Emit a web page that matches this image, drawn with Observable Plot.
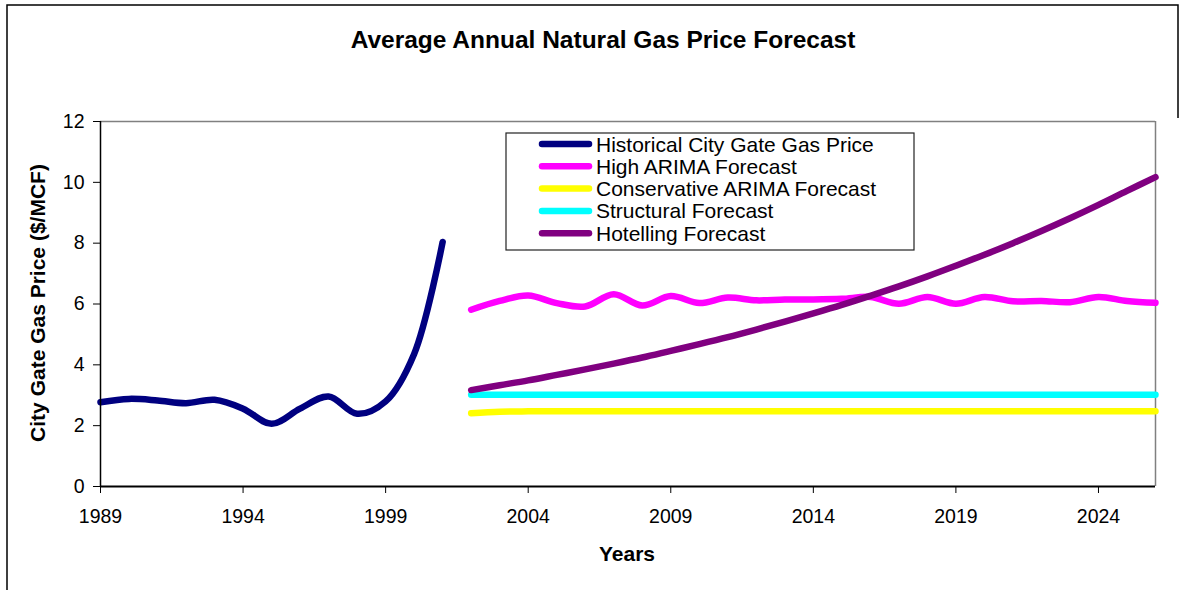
<!DOCTYPE html>
<html>
<head>
<meta charset="utf-8">
<script src="https://cdn.jsdelivr.net/npm/d3@7"></script>
<script src="https://cdn.jsdelivr.net/npm/@observablehq/plot@0.6"></script>
<style>
  html, body { margin: 0; padding: 0; background: #fff; }
  #chart { width: 1183px; height: 590px; }
  svg { font-family: "Liberation Sans", Arial, sans-serif; }
</style>
</head>
<body>
<div id="chart"></div>
<script>
// ---- Data ----
const histYears = [1989, 1990, 1991, 1992, 1993, 1994, 1995, 1996, 1997, 1998, 1999, 2000, 2001];
const historical = [2.77, 2.88, 2.83, 2.74, 2.85, 2.56, 2.06, 2.56, 2.96, 2.39, 2.80, 4.36, 8.04];

const fcYears = [2002, 2003, 2004, 2005, 2006, 2007, 2008, 2009, 2010, 2011, 2012, 2013, 2014,
                 2015, 2016, 2017, 2018, 2019, 2020, 2021, 2022, 2023, 2024, 2025, 2026];
const highArima = [5.81, 6.10, 6.28, 6.03, 5.92, 6.32, 5.95, 6.26, 6.03, 6.21, 6.12, 6.15, 6.15,
                   6.17, 6.23, 6.01, 6.23, 6.01, 6.23, 6.09, 6.10, 6.06, 6.23, 6.10, 6.04];
const conservativeArima = [2.41, 2.46, 2.47, 2.47, 2.47, 2.47, 2.47, 2.47, 2.47, 2.47, 2.47, 2.47, 2.47,
                           2.47, 2.47, 2.47, 2.47, 2.47, 2.47, 2.47, 2.47, 2.47, 2.47, 2.47, 2.47];
const structural = [3.02, 3.02, 3.02, 3.02, 3.02, 3.02, 3.02, 3.02, 3.02, 3.02, 3.02, 3.02, 3.02,
                    3.02, 3.02, 3.02, 3.02, 3.02, 3.02, 3.02, 3.02, 3.02, 3.02, 3.02, 3.02];
const hotelling = [3.17, 3.33, 3.49, 3.67, 3.85, 4.04, 4.24, 4.46, 4.68, 4.91, 5.16, 5.42, 5.69,
                   5.97, 6.27, 6.58, 6.91, 7.26, 7.62, 8.00, 8.40, 8.82, 9.26, 9.72, 10.17];

const seriesNames = ["Historical City Gate Gas Price", "High ARIMA Forecast", "Conservative ARIMA Forecast",
                     "Structural Forecast", "Hotelling Forecast"];
const seriesColors = ["#000080", "#FF00FF", "#FFFF00", "#00FFFF", "#800080"];
const xTicks = [1989, 1994, 1999, 2004, 2009, 2014, 2019, 2024];
const yTicks = [0, 2, 4, 6, 8, 10, 12];

const titleText = "Average Annual Natural Gas Price Forecast";
const xLabel = "Years";
const yLabel = "City Gate Gas Price ($/MCF)";

// ---- Build rows ----
const seriesValues = [historical, highArima, conservativeArima, structural, hotelling];
const seriesYears = [histYears, fcYears, fcYears, fcYears, fcYears];
const rows = seriesNames.map((name, i) =>
  seriesValues[i].map((v, j) => ({series: name, year: seriesYears[i][j], value: v})));

const FONT = "'Liberation Sans', Arial, sans-serif";

const plot = Plot.plot({
  width: 1183,
  height: 590,
  marginLeft: 100,
  marginRight: 28,
  marginTop: 121,
  marginBottom: 104,
  style: {fontFamily: FONT, background: "#fff", color: "#000", overflow: "visible"},
  x: {domain: [1989, 2026]},
  y: {domain: [0, 12]},
  marks: [
    Plot.ruleY([12], {stroke: "#808080", strokeWidth: 1.5}),
    Plot.ruleX([2026], {stroke: "#808080", strokeWidth: 1.5}),
    Plot.axisX({ticks: xTicks, tickFormat: d => String(d), tickSize: 7, tickPadding: 16,
                fontSize: 19.5, label: null, stroke: "#000"}),
    Plot.axisY({ticks: yTicks, tickSize: 7, tickPadding: 9, fontSize: 19.5, label: null, stroke: "#000"}),
    ...rows.map((data, i) => Plot.line(data, {
      x: "year", y: "value", stroke: seriesColors[i], strokeWidth: 6.5,
      curve: "catmull-rom", strokeLinecap: "round", strokeLinejoin: "round"
    })),
    Plot.ruleX([1989], {stroke: "#000", strokeWidth: 1.5}),
    Plot.ruleY([0], {stroke: "#000", strokeWidth: 2})
  ]
});

document.getElementById("chart").appendChild(plot);

// ---- Decorations: border, title, axis labels, legend ----
const svg = d3.select(plot);

svg.append("path")
  .attr("d", "M7,590 V5 H1178 V118")
  .attr("fill", "none").attr("stroke", "#000").attr("stroke-width", 1.5);

svg.append("text")
  .attr("x", 603).attr("y", 48)
  .attr("text-anchor", "middle")
  .attr("font-family", FONT).attr("font-weight", "bold").attr("font-size", 24.5)
  .attr("fill", "#000")
  .text(titleText);

svg.append("text")
  .attr("x", 627).attr("y", 561)
  .attr("text-anchor", "middle")
  .attr("font-family", FONT).attr("font-weight", "bold").attr("font-size", 21)
  .attr("fill", "#000")
  .text(xLabel);

svg.append("text")
  .attr("transform", "translate(45,303) rotate(-90)")
  .attr("text-anchor", "middle")
  .attr("font-family", FONT).attr("font-weight", "bold").attr("font-size", 21)
  .attr("fill", "#000")
  .text(yLabel);

const lg = svg.append("g");
lg.append("rect")
  .attr("x", 506).attr("y", 133).attr("width", 408).attr("height", 117)
  .attr("fill", "#fff").attr("stroke", "#222").attr("stroke-width", 1.2);
seriesNames.forEach((name, i) => {
  const cy = 144 + i * 22.3;
  lg.append("line")
    .attr("x1", 542).attr("x2", 589).attr("y1", cy).attr("y2", cy)
    .attr("stroke", seriesColors[i]).attr("stroke-width", 6.5).attr("stroke-linecap", "round");
  lg.append("text")
    .attr("x", 596).attr("y", cy + 7.5)
    .attr("text-anchor", "start")
    .attr("font-family", FONT).attr("font-size", 21).attr("fill", "#000")
    .text(name);
});
</script>
</body>
</html>
